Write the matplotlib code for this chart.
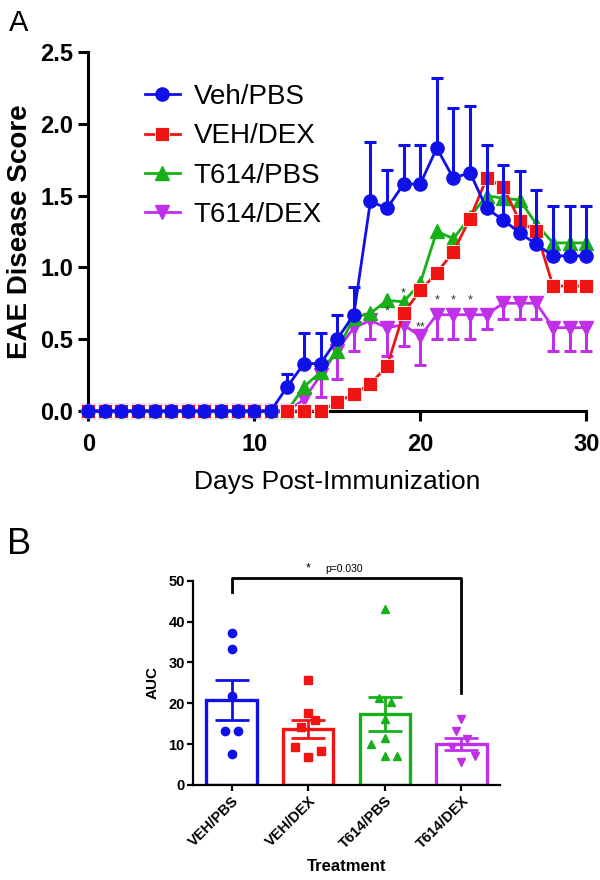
import numpy as np
import matplotlib
matplotlib.use('Agg')
import matplotlib.pyplot as plt

plt.rcParams['font.family'] = ['Liberation Sans', 'DejaVu Sans']

# ---- Panel A: EAE score time course ----
days = np.arange(31)
veh_pbs = [0] * 12 + [0.17, 0.33, 0.33, 0.50, 0.67, 1.46, 1.41, 1.58, 1.58, 1.83,
                      1.62, 1.66, 1.41, 1.33, 1.24, 1.16, 1.08, 1.08, 1.08]
veh_pbs_err = [0] * 12 + [0.09, 0.21, 0.21, 0.17, 0.19, 0.41, 0.27, 0.27, 0.27, 0.49,
                          0.49, 0.46, 0.44, 0.38, 0.43, 0.38, 0.35, 0.35, 0.35]
veh_dex = [0] * 15 + [0.06, 0.12, 0.19, 0.31, 0.68, 0.84, 0.96, 1.11, 1.34, 1.62,
                      1.56, 1.32, 1.25, 0.87, 0.87, 0.87]
t614_pbs = [0] * 13 + [0.17, 0.27, 0.42, 0.65, 0.68, 0.77, 0.76, 0.89, 1.25, 1.20,
                       1.35, 1.50, 1.48, 1.47, 1.30, 1.17, 1.17, 1.17]
t614_dex = [0] * 13 + [0.08, 0.25, 0.42, 0.58, 0.63, 0.58, 0.60, 0.52, 0.67, 0.67,
                       0.67, 0.67, 0.75, 0.75, 0.75, 0.58, 0.58, 0.58]
t614_dex_err = [0] * 13 + [0.0, 0.15, 0.20, 0.16, 0.13, 0.20, 0.15, 0.20, 0.17, 0.17,
                           0.17, 0.10, 0.11, 0.11, 0.11, 0.16, 0.16, 0.16]

star_days = [18, 19, 20, 21, 22, 23]
star_y = [0.69, 0.82, 0.58, 0.77, 0.77, 0.77]
star_txt = ['*', '*', '**', '*', '*', '*']

# ---- Panel B: AUC ----
groups = ['VEH/PBS', 'VEH/DEX', 'T614/PBS', 'T614/DEX']
auc_means = [20.9, 13.7, 17.4, 10.1]
auc_sem = [4.9, 2.1, 4.2, 1.5]
auc_points = [
    [37.3, 33.3, 21.7, 13.1, 13.1, 7.6],
    [25.8, 17.6, 14.3, 15.9, 9.4, 8.4, 6.8],
    [43.1, 21.3, 20.2, 16.2, 11.4, 10.1, 7.1, 7.1],
    [16.1, 13.2, 11.2, 9.4, 7.1, 5.6],
]
auc_jitter = [
    [0, 0, 0, -0.08, 0.08, 0],
    [0, 0, -0.1, 0.085, -0.17, 0.17, 0],
    [0, -0.075, 0.075, 0, 0, -0.18, 0, 0.16],
    [0, -0.075, 0.075, -0.125, 0.18, 0],
]
bracket_top = 50.7
bracket_left_end = 47.3
bracket_right_end = 22.5
p_text = 'p=0.030'

blue = '#1010e8'
red = '#f01414'
green = '#18b018'
purple = '#c030e8'
colors = [blue, red, green, purple]

fig = plt.figure(figsize=(6, 8.8), dpi=100)

# Panel A
ax = fig.add_axes([0.147, 0.533, 0.830, 0.408])
kw = dict(lw=2.0, clip_on=False)
lp, = ax.plot(days, t614_dex, color=purple, marker='v', ms=10, mec=purple, zorder=3,
              label='T614/DEX', **kw)
dex_err = np.array(t614_dex_err, dtype=float)
dex_val = np.array(t614_dex, dtype=float)
m = dex_err > 0
ax.errorbar(days[m], dex_val[m], yerr=[dex_err[m], np.zeros(m.sum())], fmt='none',
            ecolor=purple, elinewidth=2.2, capsize=0, zorder=3, clip_on=False)
ax.plot(days[m], dex_val[m] - dex_err[m], ls='none', marker='_', ms=9, mew=2.2,
        color=purple, zorder=3, clip_on=False)

lg, = ax.plot(days, t614_pbs, color=green, marker='^', ms=9.5, mec=green, zorder=4,
              label='T614/PBS', **kw)
lr, = ax.plot(days, veh_dex, color=red, marker='s', ms=10, mec='white', mew=0.6,
              zorder=5, label='VEH/DEX', **kw)

vp_err = np.array(veh_pbs_err, dtype=float)
vp_val = np.array(veh_pbs, dtype=float)
m = vp_err > 0
ax.errorbar(days[m], vp_val[m], yerr=[np.zeros(m.sum()), vp_err[m]], fmt='none',
            ecolor=blue, elinewidth=2.2, capsize=0, zorder=6, clip_on=False)
ax.plot(days[m], vp_val[m] + vp_err[m], ls='none', marker='_', ms=9, mew=2.2,
        color=blue, zorder=6, clip_on=False)
lb, = ax.plot(days, veh_pbs, color=blue, marker='o', ms=9.5, mec=blue, zorder=7,
              label='Veh/PBS', **kw)

for d, y, t in zip(star_days, star_y, star_txt):
    ax.text(d, y, t, ha='center', va='center', fontsize=9, color='#333333', zorder=8)

ax.set_xlim(0, 30)
ax.set_ylim(0, 2.5)
ax.set_xticks([0, 10, 20, 30])
ax.set_yticks([0, 0.5, 1.0, 1.5, 2.0, 2.5])
ax.set_yticklabels(['0.0', '0.5', '1.0', '1.5', '2.0', '2.5'])
for s in ['top', 'right']:
    ax.spines[s].set_visible(False)
for s in ['left', 'bottom']:
    ax.spines[s].set_linewidth(2.2)
ax.tick_params(width=2.2, length=7, labelsize=17, pad=4)
ax.tick_params(axis='x', pad=9)
for t in ax.get_xticklabels() + ax.get_yticklabels():
    t.set_fontweight('bold')
ax.set_ylabel('EAE Disease Score', fontsize=20, fontweight='bold', labelpad=5)
ax.set_xlabel('Days Post-Immunization', fontsize=19, labelpad=10)

fig.legend(handles=[lb, lr, lg, lp], loc='upper left', bbox_to_anchor=(145 / 600, 1 - 84 / 880),
           frameon=False, fontsize=20, handlelength=1.25, handletextpad=0.5,
           labelspacing=0.48, borderpad=0, borderaxespad=0, numpoints=1)

# Panel B
ax2 = fig.add_axes([0.322, 0.108, 0.511, 0.232])
x = np.arange(len(groups))
ax2.bar(x, auc_means, width=0.66, fill=False, edgecolor=colors, linewidth=2.4, zorder=2)
markers = ['o', 's', '^', 'v']
for i in range(len(groups)):
    ax2.errorbar(x[i], auc_means[i], yerr=auc_sem[i], fmt='none', ecolor=colors[i],
                 elinewidth=2.0, capsize=12, capthick=2.0, zorder=3)
    ax2.plot(x[i] + np.array(auc_jitter[i]), auc_points[i], ls='none', marker=markers[i],
             ms=6, color=colors[i], zorder=4, clip_on=False)

ax2.plot([x[0], x[0], x[3], x[3]], [bracket_left_end, bracket_top, bracket_top, bracket_right_end],
         color='black', lw=2.0, clip_on=False)
ax2.text(1.0, 53.0, '*', ha='center', va='center', fontsize=9)
ax2.text(1.22, 53.0, p_text, ha='left', va='center', fontsize=7.5)

ax2.set_xlim(-0.5, 3.5)
ax2.set_ylim(0, 50)
ax2.set_yticks([0, 10, 20, 30, 40, 50])
ax2.set_xticks(x)
ax2.set_xticklabels(groups, rotation=45, ha='right', rotation_mode='anchor')
for s in ['top', 'right']:
    ax2.spines[s].set_visible(False)
for s in ['left', 'bottom']:
    ax2.spines[s].set_linewidth(1.6)
ax2.tick_params(width=1.6, length=4, labelsize=10.5, pad=2)
for t in ax2.get_xticklabels() + ax2.get_yticklabels():
    t.set_fontweight('bold')
ax2.set_ylabel('AUC', fontsize=11, fontweight='bold', labelpad=6)
ax2.set_xlabel('Treatment', fontsize=12, fontweight='bold', labelpad=6)

fig.text(0.015, 0.99, 'A', fontsize=21, va='top')
fig.text(0.012, 1 - 527 / 880, 'B', fontsize=26, va='top')

fig.savefig('out.png', dpi=100)
